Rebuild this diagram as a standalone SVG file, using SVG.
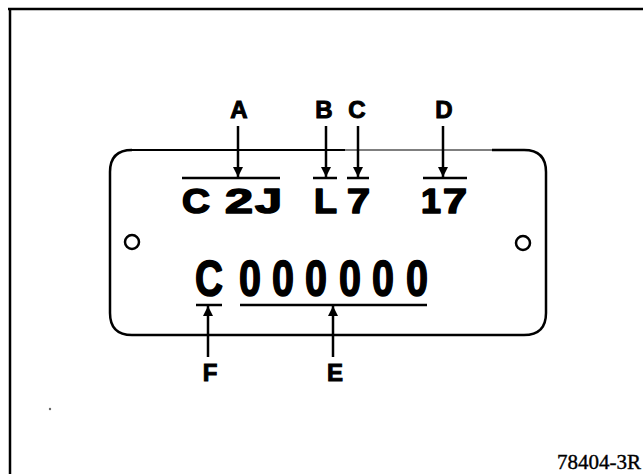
<svg xmlns="http://www.w3.org/2000/svg" width="643" height="474" viewBox="0 0 643 474">
<defs>
<style>
.lbl{font-family:"Liberation Sans",Arial,sans-serif;font-weight:bold;font-size:24px;fill:#000;stroke:#000;stroke-width:1;text-anchor:middle}
.big{font-family:"Liberation Sans",Arial,sans-serif;font-weight:bold;fill:#000;stroke:#000;stroke-width:1.6;stroke-linejoin:round}
.ln{stroke:#000;fill:none}
.cap{font-family:"Liberation Serif","Times New Roman",serif;font-size:21px;fill:#000;stroke:#000;stroke-width:0.4}
</style>
<marker id="ah" viewBox="0 0 10 10" refX="10" refY="5" markerWidth="10" markerHeight="10" markerUnits="userSpaceOnUse" orient="auto">
<path d="M0,0 L10,5 L0,10 Z" fill="#000"/>
</marker>
</defs>
<rect width="643" height="474" fill="#fff"/>
<g id="frame">
<line class="ln" x1="8" y1="9" x2="643" y2="9" stroke-width="2.5"/>
<line class="ln" x1="10" y1="8" x2="10" y2="474" stroke-width="2.5"/>
<circle cx="50" cy="409" r="1.2" fill="#666"/>
</g>
<g id="plate">
<path class="ln" stroke-width="2.5" d="M132,150 Q110,150 110,172 L110,313 Q110,335 132,335 L524,335 Q546,335 546,313 L546,172 Q546,150 524,150 L492,150"/>
<line class="ln" x1="131" y1="150" x2="345" y2="150" stroke-width="2"/>
<line class="ln" x1="345" y1="150" x2="493" y2="150" stroke-width="1.2"/>
<circle class="ln" cx="132" cy="242" r="7" stroke-width="2.5"/>
<circle class="ln" cx="523" cy="243" r="7" stroke-width="2.5"/>
</g>
<g id="row1">
<text class="big" x="182" y="213" font-size="35" textLength="28" lengthAdjust="spacingAndGlyphs">C</text>
<text class="big" x="225" y="213" font-size="35" textLength="28" lengthAdjust="spacingAndGlyphs">2</text>
<text class="big" x="255" y="213" font-size="35" textLength="27" lengthAdjust="spacingAndGlyphs">J</text>
<text class="big" x="314" y="213" font-size="35" textLength="23" lengthAdjust="spacingAndGlyphs">L</text>
<text class="big" x="347" y="213" font-size="35" textLength="23" lengthAdjust="spacingAndGlyphs">7</text>
<text class="big" x="421" y="213" font-size="35" textLength="20" lengthAdjust="spacingAndGlyphs">1</text>
<text class="big" x="443" y="213" font-size="35" textLength="24" lengthAdjust="spacingAndGlyphs">7</text>
</g>
<g id="row2">
<text class="big" x="195" y="296" font-size="50" textLength="28" lengthAdjust="spacingAndGlyphs">C</text>
<text class="big" x="239" y="296" font-size="50" textLength="22" lengthAdjust="spacingAndGlyphs">0</text>
<text class="big" x="272" y="296" font-size="50" textLength="22" lengthAdjust="spacingAndGlyphs">0</text>
<text class="big" x="305" y="296" font-size="50" textLength="22" lengthAdjust="spacingAndGlyphs">0</text>
<text class="big" x="339" y="296" font-size="50" textLength="22" lengthAdjust="spacingAndGlyphs">0</text>
<text class="big" x="372" y="296" font-size="50" textLength="22" lengthAdjust="spacingAndGlyphs">0</text>
<text class="big" x="406" y="296" font-size="50" textLength="22" lengthAdjust="spacingAndGlyphs">0</text>
</g>
<g id="bars">
<line class="ln" x1="182" y1="178" x2="280" y2="178" stroke-width="2.5"/>
<line class="ln" x1="313" y1="178" x2="337" y2="178" stroke-width="2.5"/>
<line class="ln" x1="347" y1="178" x2="369" y2="178" stroke-width="2.5"/>
<line class="ln" x1="423" y1="178" x2="467" y2="178" stroke-width="2.5"/>
<line class="ln" x1="196" y1="305" x2="222" y2="305" stroke-width="2.5"/>
<line class="ln" x1="240" y1="305" x2="427" y2="305" stroke-width="2.5"/>
</g>
<g id="labels">
<text class="lbl" x="239" y="118">A</text>
<text class="lbl" x="324" y="118">B</text>
<text class="lbl" x="357" y="118">C</text>
<text class="lbl" x="444" y="118">D</text>
<text class="lbl" x="210" y="381">F</text>
<text class="lbl" x="335" y="381">E</text>
</g>
<g id="connectors">
<line class="ln" stroke-width="2.5" x1="238" y1="126" x2="238" y2="177" marker-end="url(#ah)"/>
<line class="ln" stroke-width="2.5" x1="326" y1="126" x2="326" y2="177" marker-end="url(#ah)"/>
<line class="ln" stroke-width="2.5" x1="358" y1="126" x2="358" y2="177" marker-end="url(#ah)"/>
<line class="ln" stroke-width="2.5" x1="443" y1="126" x2="443" y2="177" marker-end="url(#ah)"/>
<line class="ln" stroke-width="2.5" x1="208" y1="357" x2="208" y2="306" marker-end="url(#ah)"/>
<line class="ln" stroke-width="2.5" x1="333" y1="357" x2="333" y2="306" marker-end="url(#ah)"/>
</g>
<text class="cap" x="557" y="469">78404-3R</text>
</svg>
